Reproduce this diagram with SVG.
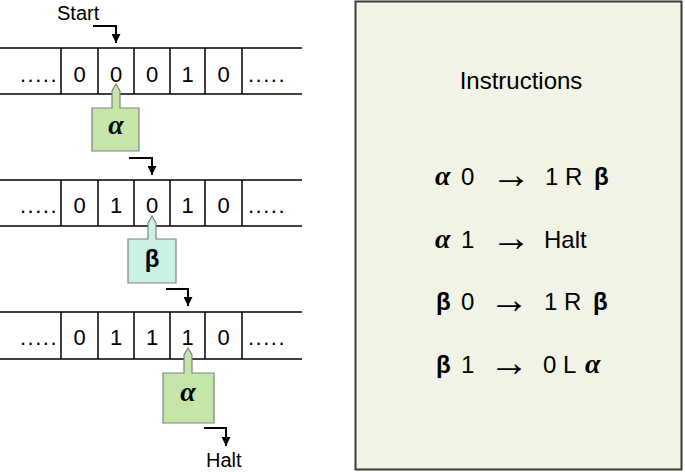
<svg xmlns="http://www.w3.org/2000/svg" width="685" height="472" viewBox="0 0 685 472">
<defs>
<style>
.tape{stroke:#000;stroke-width:1.5;fill:none}
.dig{font-family:"Liberation Sans",Arial,sans-serif;font-size:22px;fill:#000;text-anchor:middle}
.dots{letter-spacing:1.5px}
.lbl{font-family:"Liberation Sans",Arial,sans-serif;font-size:20px;fill:#000}
.alpha{font-family:"Liberation Serif","DejaVu Serif",serif;font-weight:bold;font-style:italic;font-size:28px;fill:#000}
.beta{font-family:"Liberation Sans",Arial,sans-serif;font-weight:bold;font-size:24px;fill:#000}
.ins{font-family:"Liberation Sans",Arial,sans-serif;font-size:24px;fill:#000}
.arr{font-family:"Liberation Sans",Arial,sans-serif;font-size:40px;fill:#000}
.conn{stroke:#000;stroke-width:2;fill:none}
.head{stroke:#808080;stroke-width:1.2}
</style>
<marker id="ah" markerWidth="9" markerHeight="9" refX="10" refY="5" orient="auto" markerUnits="userSpaceOnUse" viewBox="0 0 10 10">
<path d="M0,0 L10,5 L0,10 Z" fill="#000"/>
</marker>
</defs>
<rect width="685" height="472" fill="#fff"/>

<g id="tape1">
<line class="tape" x1="0" y1="48" x2="302" y2="48"/>
<line class="tape" x1="0" y1="94" x2="302" y2="94"/>
<path class="tape" d="M61,48V94M98,48V94M134,48V94M170,48V94M205,48V94M242,48V94"/>
<text class="dig dots" x="39" y="82">.....</text>
<text class="dig" x="79.5" y="82">0</text>
<text class="dig" x="116" y="82">0</text>
<text class="dig" x="152" y="82">0</text>
<text class="dig" x="187.5" y="82">1</text>
<text class="dig" x="223.5" y="82">0</text>
<text class="dig dots" x="267" y="82">.....</text>
</g>

<g id="tape2">
<line class="tape" x1="0" y1="180" x2="302" y2="180"/>
<line class="tape" x1="0" y1="226" x2="302" y2="226"/>
<path class="tape" d="M61,180V226M98,180V226M134,180V226M170,180V226M205,180V226M242,180V226"/>
<text class="dig dots" x="39" y="213">.....</text>
<text class="dig" x="79.5" y="213">0</text>
<text class="dig" x="116" y="213">1</text>
<text class="dig" x="152" y="213">0</text>
<text class="dig" x="187.5" y="213">1</text>
<text class="dig" x="223.5" y="213">0</text>
<text class="dig dots" x="267" y="213">.....</text>
</g>

<g id="tape3">
<line class="tape" x1="0" y1="312" x2="302" y2="312"/>
<line class="tape" x1="0" y1="359" x2="302" y2="359"/>
<path class="tape" d="M61,312V359M98,312V359M134,312V359M170,312V359M205,312V359M242,312V359"/>
<text class="dig dots" x="39" y="345">.....</text>
<text class="dig" x="79.5" y="345">0</text>
<text class="dig" x="116" y="345">1</text>
<text class="dig" x="152" y="345">1</text>
<text class="dig" x="187.5" y="345">1</text>
<text class="dig" x="223.5" y="345">0</text>
<text class="dig dots" x="267" y="345">.....</text>
</g>

<g id="head1">
<path class="head" fill="#c6e6a9" d="M92,108H112V91L116,84L120,91V108H139V151H92Z"/>
<text class="alpha" x="116" y="134" text-anchor="middle">α</text>
</g>
<g id="head2">
<path class="head" fill="#c9f1e5" d="M128,239H148V223L152,216L156,223V239H176V283H128Z"/>
<text class="beta" x="152" y="267" text-anchor="middle">β</text>
</g>
<g id="head3">
<path class="head" fill="#c6e6a9" d="M163,373H184V355L188,348L192,355V373H214V423H163Z"/>
<text class="alpha" x="188" y="401" text-anchor="middle">α</text>
</g>

<g id="start">
<text class="lbl" x="57" y="20">Start</text>
</g>
<g id="halt">
<text class="lbl" x="206" y="467">Halt</text>
</g>

<g id="connectors">
<path class="conn" d="M93,26H116V43" marker-end="url(#ah)"/>
<path class="conn" d="M129,158H152V175" marker-end="url(#ah)"/>
<path class="conn" d="M166,289H188V306" marker-end="url(#ah)"/>
<path class="conn" d="M204,428H226V446" marker-end="url(#ah)"/>
</g>

<g id="instructions">
<rect x="355.5" y="1.5" width="326" height="468" fill="#f0f3e6" stroke="#3a3a3a" stroke-width="2"/>
<text class="ins" x="521" y="89" text-anchor="middle" font-size="27">Instructions</text>
<text class="alpha" x="435" y="185">α</text>
<text class="ins" x="461" y="185">0</text>
<text class="arr" x="491" y="188">→</text>
<text class="ins" x="545" y="185">1 R</text>
<text class="beta" x="594" y="185">β</text>

<text class="alpha" x="435" y="248">α</text>
<text class="ins" x="461" y="248">1</text>
<text class="arr" x="491" y="251">→</text>
<text class="ins" x="544" y="248">Halt</text>

<text class="beta" x="436" y="310">β</text>
<text class="ins" x="461" y="310">0</text>
<text class="arr" x="489" y="313">→</text>
<text class="ins" x="544" y="310">1 R</text>
<text class="beta" x="593" y="310">β</text>

<text class="beta" x="436" y="373">β</text>
<text class="ins" x="461" y="373">1</text>
<text class="arr" x="489" y="376">→</text>
<text class="ins" x="543" y="373">0 L</text>
<text class="alpha" x="585" y="373">α</text>
</g>
</svg>
